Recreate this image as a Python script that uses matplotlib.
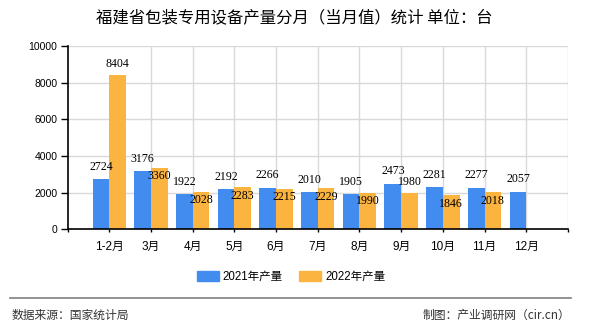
import matplotlib
matplotlib.use("Agg")
import matplotlib.pyplot as plt
from matplotlib.lines import Line2D
from matplotlib.patches import Patch

months = ["1-2月", "3月", "4月", "5月", "6月", "7月", "8月", "9月", "10月", "11月", "12月"]
prod_2021 = [2724, 3176, 1922, 2192, 2266, 2010, 1905, 2473, 2281, 2277, 2057]
prod_2022 = [8404, 3360, 2028, 2283, 2215, 2229, 1990, 1980, 1846, 2018]
# which 2022 labels sit above the bar (the rest are drawn inside, just under the top)
above_2022 = [True, False, False, False, False, False, False, True, False, False]

BLUE = "#438CEF"
ORANGE = "#FCB441"
CJK = ["Liberation Sans", "Noto Sans CJK SC"]

fig = plt.figure(figsize=(5.9, 3.3), dpi=100)
ax = fig.add_axes([67.5 / 590, 1 - 229.3 / 330, (568 - 67.5) / 590, (229.3 - 46) / 330])

w = 0.4
x21 = [i - w / 2 for i in range(len(prod_2021))]
x22 = [i + w / 2 for i in range(len(prod_2022))]
ax.bar(x21, prod_2021, width=w, color=BLUE, zorder=2)
ax.bar(x22, prod_2022, width=w, color=ORANGE, zorder=2)

for x, v in zip(x21, prod_2021):
    ax.annotate(str(v), (x, v), xytext=(0, 9), textcoords="offset points",
                ha="center", va="center", fontsize=8.6, family="Liberation Serif", zorder=3)
for x, v, up in zip(x22, prod_2022, above_2022):
    dy = 8 if up else -6
    ax.annotate(str(v), (x, v), xytext=(0, dy), textcoords="offset points",
                ha="center", va="center", fontsize=8.6, family="Liberation Serif", zorder=3)

ax.set_xlim(-1, 11)
ax.set_ylim(0, 10000)
ax.set_xticks(range(-1, 12))
ax.set_xticklabels([""] + months + [""], family=CJK, fontsize=8.5)
ax.set_yticks(range(0, 10001, 2000))
ax.tick_params(axis="y", length=4.7, width=1, pad=2.5, labelsize=7.5)
ax.tick_params(axis="x", length=2.5, width=1, pad=6)
for lab in ax.get_yticklabels():
    lab.set_family("Liberation Sans")

ax.yaxis.grid(True, color="#D9D9D9", lw=1, zorder=0)
for gx in range(1, 12):
    ax.axvline(gx, color="#D9D9D9", lw=1, zorder=0)
ax.set_axisbelow(True)

for s in ["top", "right"]:
    ax.spines[s].set_visible(False)
ax.spines["left"].set_linewidth(1.2)
ax.spines["bottom"].set_linewidth(1.2)

fig.text(294 / 590, 1 - 17.5 / 330, "福建省包装专用设备产量分月（当月值）统计 单位：台",
         ha="center", va="center", fontsize=11.8, family="Noto Sans CJK SC")

handles = [Patch(color=BLUE, label="2021年产量"), Patch(color=ORANGE, label="2022年产量")]
fig.legend(handles=handles, loc="center", bbox_to_anchor=(291 / 590, 1 - 277 / 330), ncol=2,
           frameon=False, prop={"family": CJK, "size": 8.3}, handlelength=1.9,
           handleheight=0.85, handletextpad=0.35, columnspacing=1.4)

fig.add_artist(Line2D([10 / 590, 571 / 590], [1 - 298.3 / 330] * 2, color="#808080", lw=1.2))
fig.text(12 / 590, 1 - 315 / 330, "数据来源：国家统计局", ha="left", va="center",
         fontsize=8.5, color="#333333", family="Noto Sans CJK SC")
fig.text(570 / 590, 1 - 315 / 330, "制图：产业调研网（cir.cn）", ha="right", va="center",
         fontsize=8.5, color="#333333", family="Noto Sans CJK SC")

fig.savefig("out.png", dpi=100)
